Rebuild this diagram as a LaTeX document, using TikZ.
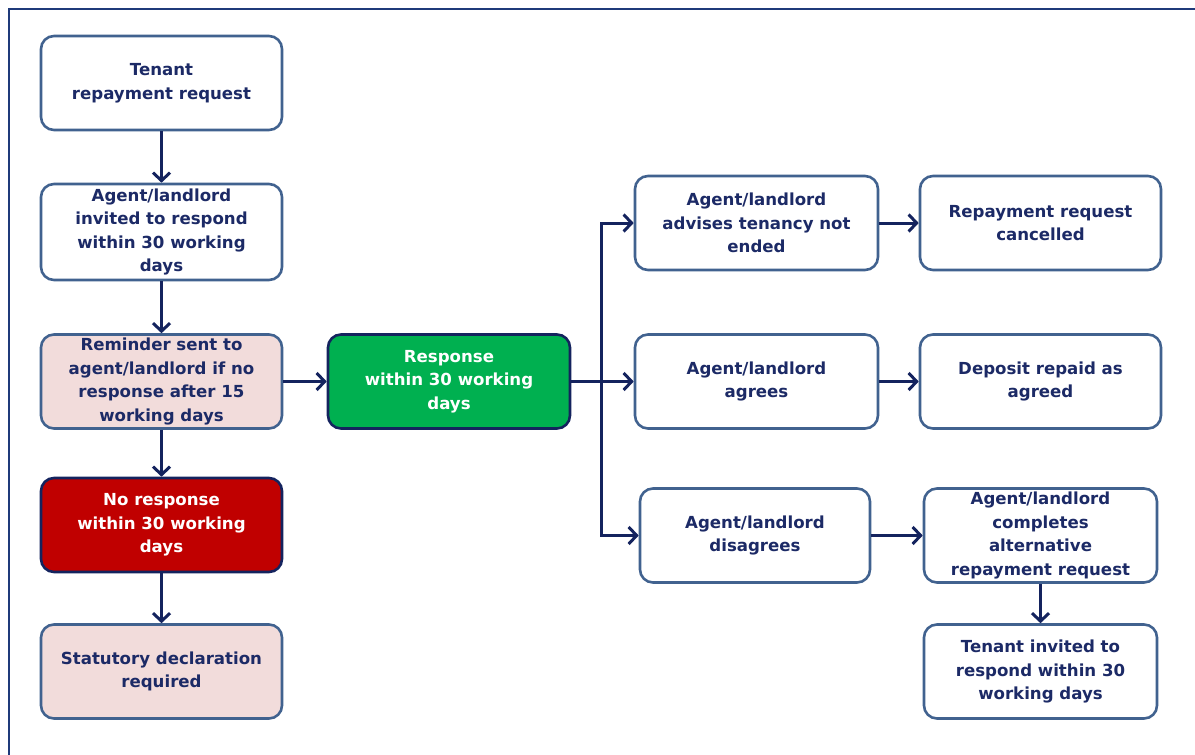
\documentclass[tikz,border=0pt]{standalone}
\usepackage{fontspec}
\setmainfont{DejaVu Sans}
\usetikzlibrary{arrows.meta}
\definecolor{navy}{HTML}{14235E}
\definecolor{txt}{HTML}{1C2A66}
\definecolor{steel}{HTML}{41628F}
\definecolor{pinkf}{HTML}{F2DCDB}
\definecolor{redf}{HTML}{C00000}
\definecolor{greenf}{HTML}{00B050}
\definecolor{frame}{HTML}{1F3A7A}
\tikzset{
  box/.style={draw=steel, line width=2.6pt, rounded corners=13pt, fill=white,
    minimum width=241pt, minimum height=94pt, inner sep=0pt, align=center,
    text=txt, font=\bfseries\fontsize{16.6}{23.5}\selectfont},
  pinkbox/.style={box, fill=pinkf},
  redbox/.style={box, draw=navy, fill=redf, text=white},
  greenbox/.style={box, draw=navy, fill=greenf, text=white},
  conn/.style={draw=navy, line width=3pt, -{Straight Barb[length=8pt,width=17pt]}},
}
\begin{document}
\begin{tikzpicture}[x=1pt,y=-1pt]
\useasboundingbox (0,0) rectangle (1195,755);
\fill[white] (0,0) rectangle (1195,755);
\draw[frame, line width=2pt] (9,755) -- (9,9) -- (1195,9);

\node[box] (t1) at (161.5,83) {Tenant\\repayment request};
\node[box, minimum height=96pt] (t2) at (161.5,232) {Agent/landlord\\invited to respond\\within 30 working\\days};
\node[pinkbox] (t3) at (161.5,381.5) {Reminder sent to\\agent/landlord if no\\response after 15\\working days};
\node[redbox] (t4) at (161.5,525) {No response\\within 30 working\\days};
\node[pinkbox] (t5) at (161.5,671.5) {Statutory declaration\\required};

\node[greenbox, minimum width=242pt] (resp) at (449,381.5) {Response\\within 30 working\\days};

\node[box, minimum width=243pt] (a1) at (756.5,223) {Agent/landlord\\advises tenancy not\\ended};
\node[box, minimum width=243pt] (a2) at (756.5,381.5) {Agent/landlord\\agrees};
\node[box, minimum width=230pt] (a3) at (755,535.5) {Agent/landlord\\disagrees};

\node[box] (b1) at (1040.5,223) {Repayment request\\cancelled};
\node[box] (b2) at (1040.5,381.5) {Deposit repaid as\\agreed};
\node[box, minimum width=233pt] (b3) at (1040.5,535.5) {Agent/landlord\\completes\\alternative\\repayment request};
\node[box, minimum width=233pt] (b4) at (1040.5,671.5) {Tenant invited to\\respond within 30\\working days};

\coordinate (br) at (601,381.5);

\draw[conn] (t1) -- (t2);
\draw[conn] (t2) -- (t3);
\draw[conn] (t3) -- (t4);
\draw[conn] (t4) -- (t5);
\draw[conn] (t3) -- (resp);
\draw[conn] (resp) -- (a2);
\draw[conn] (br) |- (a1.west);
\draw[conn] (br) |- (a3.west);
\draw[conn] (a1) -- (b1);
\draw[conn] (a2) -- (b2);
\draw[conn] (a3) -- (b3);
\draw[conn] (b3) -- (b4);
\end{tikzpicture}
\end{document}
